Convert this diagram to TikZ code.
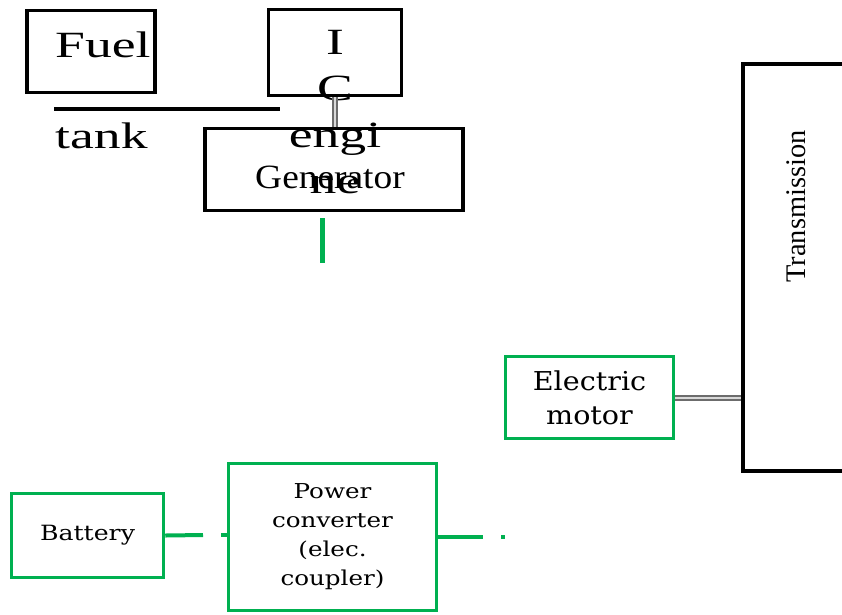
\documentclass[tikz,border=0pt]{standalone}
\usepackage{fontspec}
\setmainfont{Liberation Serif}
\newfontfamily\tnrwide[FakeStretch=1.45]{Liberation Serif}
\newfontfamily\tnrgen[FakeStretch=1.1]{Liberation Serif}
\newfontfamily\schbig[FakeStretch=1.1]{DejaVu Serif}
\newfontfamily\schsmall[FakeStretch=1.2]{DejaVu Serif}
\definecolor{elgreen}{HTML}{00B050}

\begin{document}
\begin{tikzpicture}[
    x=1pt, y=-1pt,
    blk/.style={draw=black, line width=3.5pt, inner sep=0pt},
    gblk/.style={draw=elgreen, line width=3.5pt, inner sep=0pt},
    bigtxt/.style={font=\tnrwide\fontsize{37}{44}\selectfont, inner sep=0pt},
    gline/.style={elgreen, line width=4pt},
    shaft/.style={draw=gray!85!black, double=gray!30, double distance=2pt,
                  line width=2pt}
]
\clip (0,0) rectangle (842,614);

% ---------- engine side ----------
\node[blk, minimum width=128pt, minimum height=82pt] (fuel) at (91,51.5) {};
\node[blk, minimum width=133pt, minimum height=86pt] (ic)   at (335,52.5) {};
\node[blk, minimum width=258pt, minimum height=82pt] (gen)  at (334,169.5) {};

\coordinate (fl1) at (54,109);
\coordinate (fl2) at (280,109);
\draw[line width=4pt] (fl1) -- (fl2);

\node[bigtxt, anchor=base west] (fuellbl) at (55,57)  {Fuel};
\node[bigtxt, anchor=base west] (tanklbl) at (55,148) {tank};
\foreach \t [count=\i] in {I,C,engi,ne}
  \node[bigtxt, anchor=base] (ic\i) at (335,{54+46.5*(\i-1)}) {\t};

\draw[shaft] (ic.south) -- (ic.south |- gen.north);
\node[font=\tnrgen\fontsize{34}{40}\selectfont, inner sep=0pt, anchor=base]
      (genlbl) at (330,188) {Generator};

\coordinate (gstub) at (322,263);
\draw[gline, line width=5pt] ([yshift=-6pt]gen.south -| gstub) -- (gstub);

% ---------- drive side ----------
\node[blk, minimum width=120pt, minimum height=407pt] (trans) at (803,267.5) {};
\node[rotate=90, font=\fontsize{28.4}{34}\selectfont, inner sep=0pt]
      (translbl) at (796,206.5) {Transmission};

\node[gblk, minimum width=168pt, minimum height=82pt, align=center,
      font=\schbig\fontsize{26}{34}\selectfont] (motor) at (589.5,397.5)
      {Electric\\motor};
\draw[shaft] (motor.east) -- (motor.east -| trans.west);

% ---------- electric side ----------
\node[gblk, minimum width=152pt, minimum height=84pt,
      font=\schsmall\fontsize{21}{26}\selectfont] (bat) at (87.5,535.5) {Battery};
\node[gblk, minimum width=208pt, minimum height=147pt, align=center,
      font=\schsmall\fontsize{20.5}{29}\selectfont] (conv) at (332.5,537)
      {Power\\converter\\(elec.\\coupler)};

\coordinate (bgap) at (203,535);
\coordinate (cgap) at (221,535);
\coordinate (cout) at (483,537);
\coordinate (cdot) at (501,537);
\draw[gline] (bat.east) -- (bgap);
\draw[gline] (cgap) -- (cgap -| conv.west);
\draw[gline] (conv.east) -- (cout);
\draw[gline] (cdot) -- ++(4,0);

\end{tikzpicture}
\end{document}
